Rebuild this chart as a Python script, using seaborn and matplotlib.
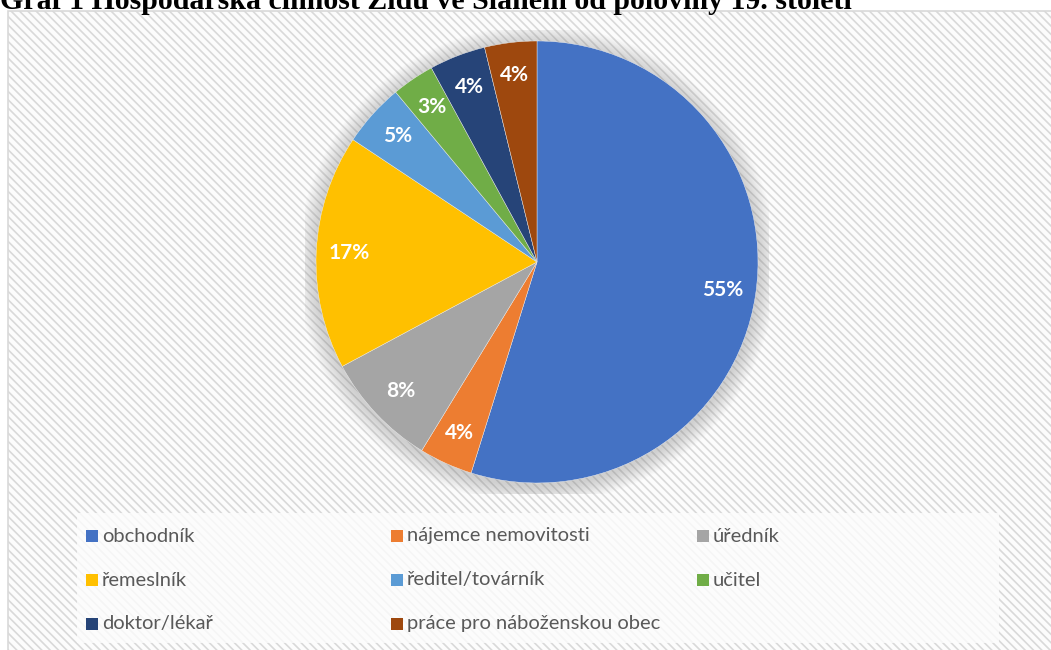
import matplotlib
matplotlib.use('Agg')
import matplotlib.pyplot as plt
import matplotlib.patches as mpatches
import seaborn as sns

# Data (share of Jewish households by occupation)
categories = ['obchodník', 'nájemce nemovitosti', 'úředník', 'řemeslník',
              'ředitel/továrník', 'učitel', 'doktor/lékař', 'práce pro náboženskou obec']
shares = [54.6, 3.9, 8.4, 17.1, 4.6, 3.1, 4.1, 3.8]
colors = ['#4472C4', '#ED7D31', '#A5A5A5', '#FFC000',
          '#5B9BD5', '#70AD47', '#264478', '#9E480E']
title = 'Graf 1 Hospodářská činnost Židů ve Slaném od poloviny 19. století'

sns.set_theme(style='white')
plt.rcParams['font.family'] = ['Lato', 'DejaVu Sans']
plt.rcParams['hatch.color'] = '#f1f1f1'
plt.rcParams['hatch.linewidth'] = 1.2

W, H = 1051, 650
fig = plt.figure(figsize=(W / 100, H / 100), dpi=100)
fig.patch.set_facecolor('white')

# chart area with diagonal stripes
bg = mpatches.Rectangle((8 / W, -0.1), 1.2, 1 - 11 / H + 0.1, transform=fig.transFigure,
                        facecolor='#fcfcfc', edgecolor='#d9d9d9', linewidth=1.2,
                        hatch='\\\\\\\\', zorder=0)
fig.patches.append(bg)

# legend background
leg_bg = mpatches.Rectangle((77 / W, 1 - 643 / H), (999 - 77) / W, (643 - 513) / H,
                            transform=fig.transFigure, facecolor='#fdfdfd',
                            edgecolor='none', alpha=0.8, zorder=1)
fig.patches.append(leg_bg)

# pie axes
cx, cy, r = 537, 262, 221
ax = fig.add_axes([(cx - 1.05 * r) / W, (H - cy - 1.05 * r) / H, 2.1 * r / W, 2.1 * r / H])
ax.set_zorder(5)
ax.set_facecolor('none')

# soft shadow around the pie
for k in range(12, 0, -1):
    ax.add_patch(mpatches.Circle((0, -0.012), 1 + k * 0.007, facecolor='#808080',
                                 edgecolor='none', alpha=0.03, zorder=0))

wedges, texts, autotexts = ax.pie(
    shares, colors=colors, startangle=90, counterclock=False,
    autopct='%.0f%%', pctdistance=0.85, radius=1,
    wedgeprops=dict(linewidth=0.3, edgecolor='#f0f0f0'),
    textprops=dict(color='white', fontsize=15, fontweight='bold'))
for w in wedges:
    w.set_zorder(2)
for t in autotexts:
    t.set_zorder(3)
ax.set_xlim(-1.05, 1.05)
ax.set_ylim(-1.05, 1.05)
ax.set_aspect('auto')
ax.axis('off')

# legend, filled row by row
col_x = [86, 391, 697]
row_y = [536, 580, 624]
for i, (lab, c) in enumerate(zip(categories, colors)):
    row, col = divmod(i, 3)
    x, y = col_x[col], row_y[row]
    fig.patches.append(mpatches.Rectangle((x / W, 1 - (y + 6) / H), 12 / W, 12 / H,
                                          transform=fig.transFigure, facecolor=c,
                                          edgecolor='none', zorder=3))
    fig.text((x + 16) / W, 1 - y / H, lab, fontsize=14.5, color='#595959',
             va='center', ha='left', zorder=4)

# title, its upper half cut off by the page edge
fig.text(0, 1 - 9 / H, title, fontsize=21.5, fontweight='bold', color='black',
         family=['Liberation Serif', 'DejaVu Serif'], va='baseline', ha='left')

fig.savefig('out.png', dpi=100)
